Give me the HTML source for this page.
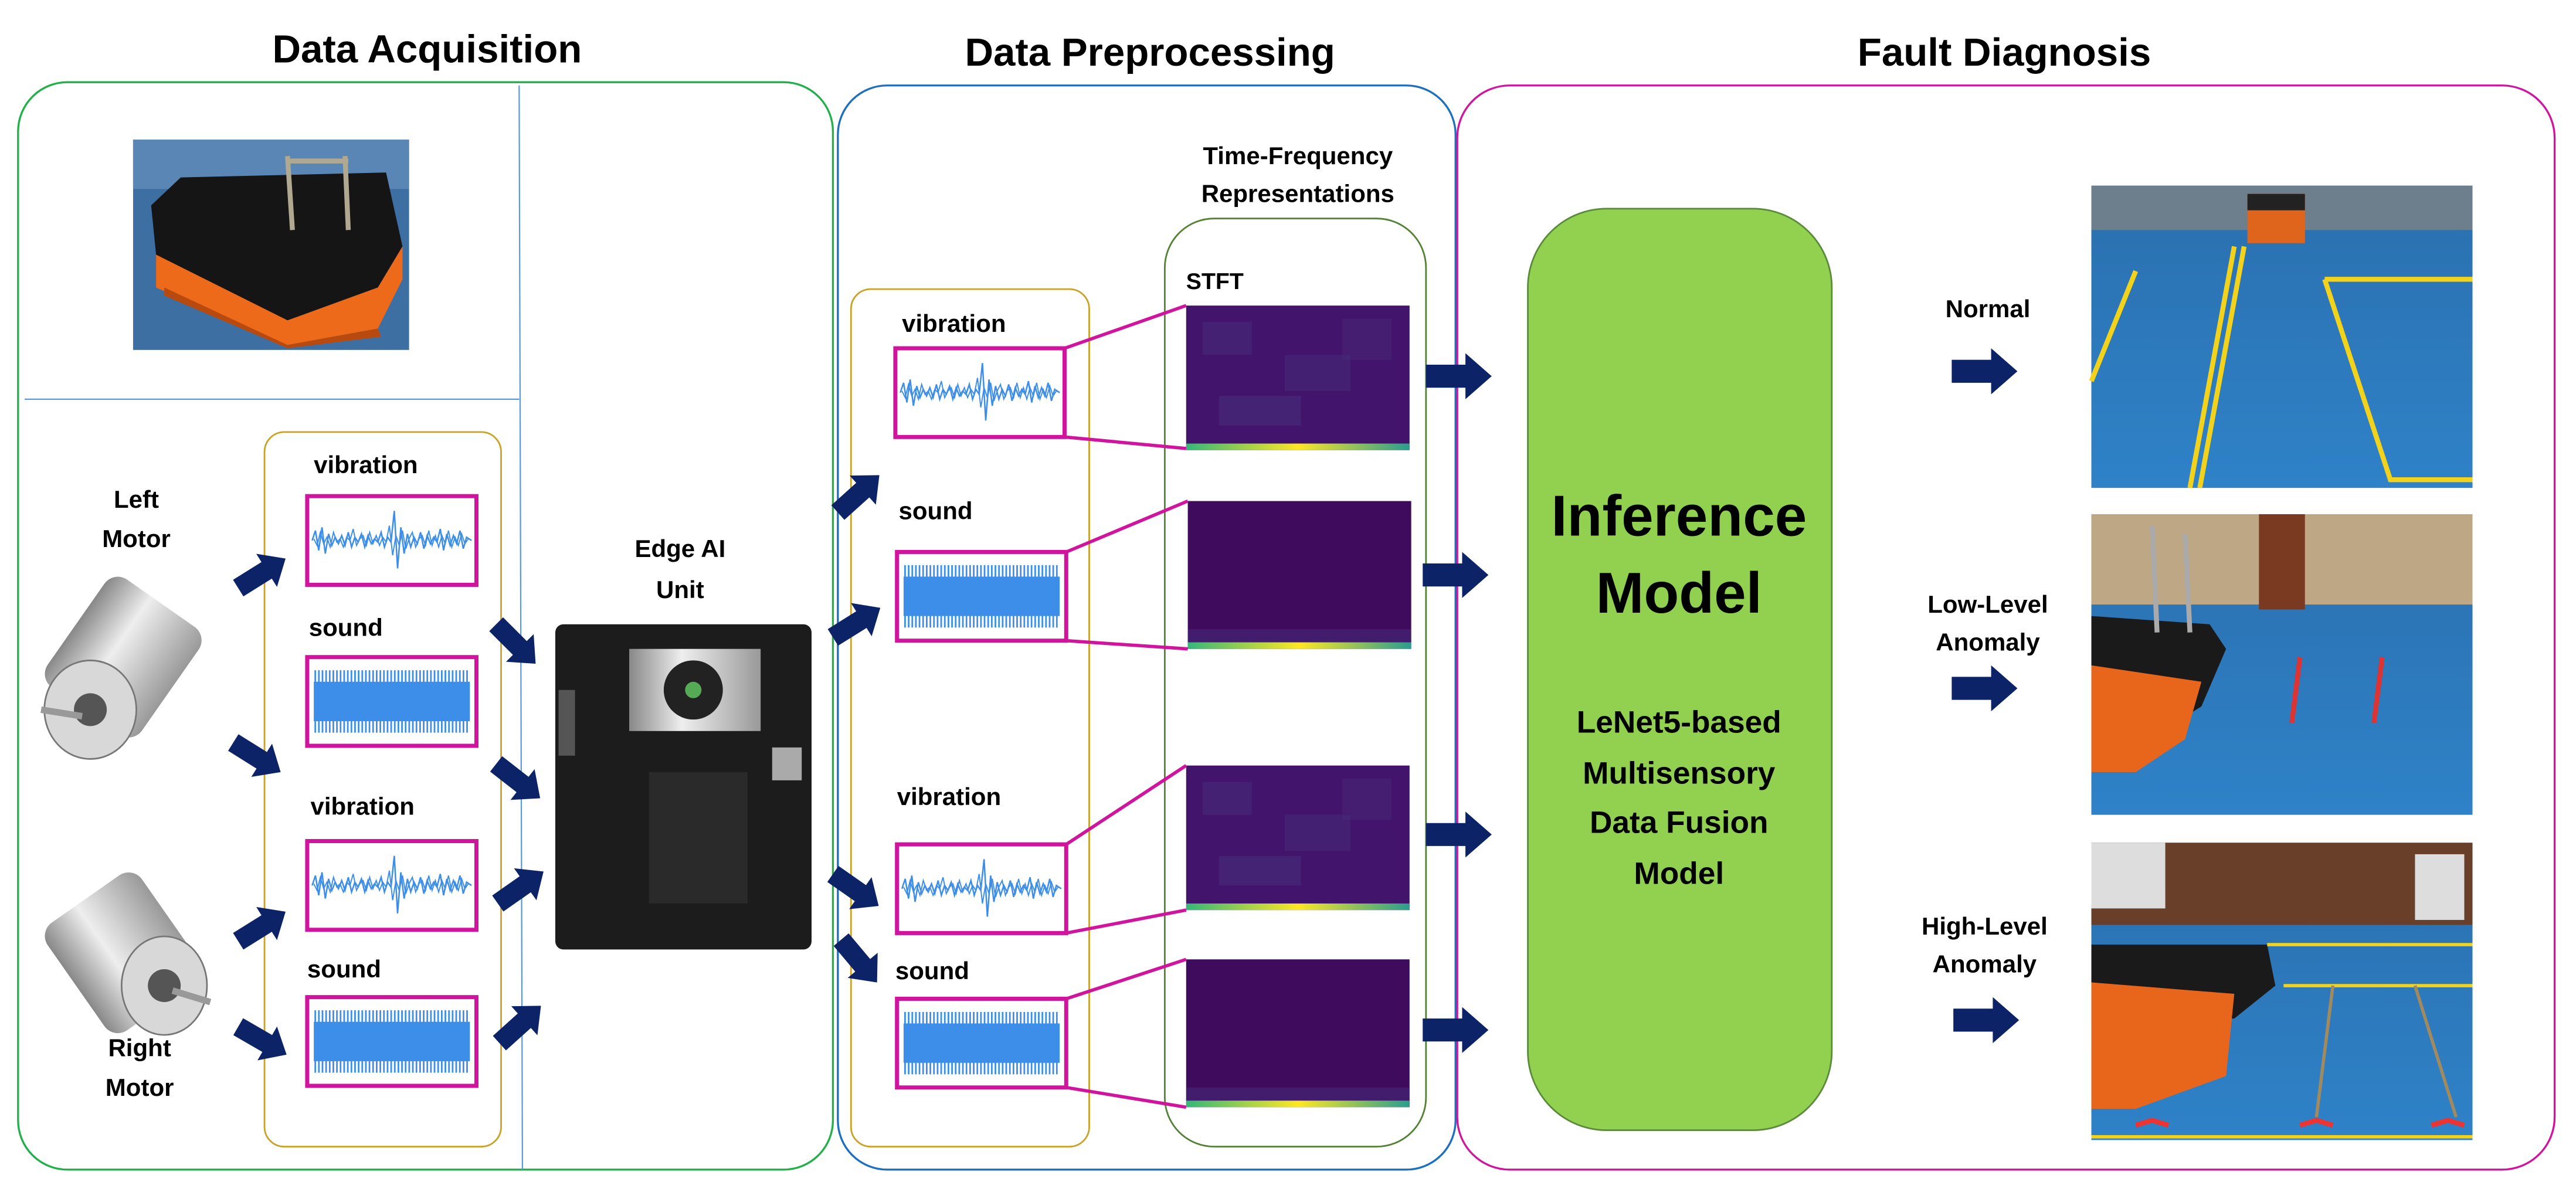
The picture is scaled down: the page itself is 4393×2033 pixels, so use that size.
<!DOCTYPE html>
<html><head><meta charset="utf-8"><style>
html,body{margin:0;padding:0;background:#fff;}
svg{display:block;}
text{font-family:"Liberation Sans",Arial,sans-serif;font-weight:bold;fill:#000;}
</style></head><body>
<svg width="4393" height="2033" viewBox="0 0 1568 725.6" xmlns="http://www.w3.org/2000/svg">
<defs>
  <g id="arr"><path d="M0,-7 L24,-7 L24,-14 L40,0 L24,14 L24,7 L0,7 Z" fill="#0c2467"/></g>
  <g id="vib">
    <rect x="0" y="0" width="103" height="54" fill="#fff" stroke="#d0149e" stroke-width="2.5"/>
    <polyline fill="none" stroke="#3d8ee8" stroke-width="0.9" points="3,27 5,21 7,33 9,19 11,35 13,23 15,30 17,25 19,29 21,24 23,30 25,22 27,31 29,25 31,28 33,23 35,31 37,24 39,29 41,26 43,28 45,22 47,31 49,25 51,28 53,9 55,44 57,19 59,35 61,23 63,31 65,25 67,29 69,22 71,32 73,24 75,29 77,25 79,28 81,20 83,33 85,23 87,30 89,24 91,29 93,21 95,32 97,25 100,27"/>
    <polyline fill="none" stroke="#3d8ee8" stroke-width="0.7" points="4,26 6,30 8,22 10,29 12,25 14,31 16,22 18,28 20,26 22,31 24,25 26,27 28,20 30,30 32,26 34,24 36,30 38,22 40,29 42,24 44,30 46,25 48,28 50,18 52,36 54,24 56,30 58,21 60,32 62,26 64,22 66,31 68,26 70,24 72,30 74,21 76,30 78,24 80,31 82,24 84,29 86,21 88,31 90,25 92,30 94,23 96,29 98,26"/>
  </g>
  <pattern id="lines" width="2.2" height="60" patternUnits="userSpaceOnUse">
    <rect x="0" y="0" width="1" height="60" fill="#3d8ee8"/>
  </pattern>
  <g id="snd">
    <rect x="0" y="0" width="103" height="54" fill="#fff" stroke="#d0149e" stroke-width="2.5"/>
    <rect x="4" y="8" width="95" height="38" fill="url(#lines)"/>
    <rect x="4" y="15" width="95" height="24" fill="#3d8ee8"/>
  </g>
  <linearGradient id="strip" x1="0" x2="1"><stop offset="0" stop-color="#35b779"/><stop offset="0.5" stop-color="#fde725"/><stop offset="1" stop-color="#2a9d8f"/></linearGradient>
  <g id="spec1">
    <rect x="0" y="0" width="136" height="88" fill="#43146b"/>
    <rect x="10" y="10" width="30" height="20" fill="#472d7b" opacity="0.5"/>
    <rect x="60" y="30" width="40" height="22" fill="#46337e" opacity="0.4"/>
    <rect x="20" y="55" width="50" height="18" fill="#453781" opacity="0.4"/>
    <rect x="95" y="8" width="30" height="25" fill="#482878" opacity="0.5"/>
    <rect x="0" y="84" width="136" height="4" fill="url(#strip)"/>
  </g>
  <g id="spec2">
    <rect x="0" y="0" width="136" height="90" fill="#3f0b5c"/>
    <rect x="0" y="78" width="136" height="8" fill="#452a78" opacity="0.6"/>
    <rect x="0" y="86" width="136" height="4" fill="url(#strip)"/>
  </g>
  <linearGradient id="floor" x1="0" y1="0" x2="0" y2="1"><stop offset="0" stop-color="#2a6fae"/><stop offset="1" stop-color="#2f82c8"/></linearGradient>
  <linearGradient id="metal" x1="0" x2="1"><stop offset="0" stop-color="#888"/><stop offset="0.4" stop-color="#eee"/><stop offset="1" stop-color="#999"/></linearGradient>
</defs>

<text x="260" y="38" font-size="24" text-anchor="middle">Data Acquisition</text>
<text x="700" y="40" font-size="24" text-anchor="middle">Data Preprocessing</text>
<text x="1220" y="40" font-size="24" text-anchor="middle">Fault Diagnosis</text>

<rect x="11" y="50" width="496" height="662" rx="30" fill="none" stroke="#22b04b" stroke-width="1.2"/>
<rect x="510" y="52" width="376" height="660" rx="30" fill="none" stroke="#1f6fc0" stroke-width="1.2"/>
<rect x="887" y="52" width="668" height="660" rx="32" fill="none" stroke="#d0149e" stroke-width="1.2"/>
<line x1="316" y1="52" x2="318" y2="712" stroke="#5b9bd5" stroke-width="0.8"/>
<line x1="15" y1="243" x2="316" y2="243" stroke="#5b9bd5" stroke-width="0.8"/>

<rect x="81" y="85" width="168" height="128" fill="#3e6fa2"/>
<rect x="81" y="85" width="168" height="30" fill="#5a86b5"/>
<path d="M92,125 L110,108 L235,105 L245,150 L230,175 L175,195 L95,155 Z" fill="#151515"/>
<path d="M95,155 L175,195 L230,175 L245,150 L245,170 L230,200 L175,210 L95,175 Z" fill="#ec6a1a"/>
<path d="M100,175 L175,210 L230,200 L232,205 L175,212 L100,180 Z" fill="#b84a10"/>
<path d="M175,95 L178,140 M210,95 L212,140 M175,98 L212,98" stroke="#b0a890" stroke-width="3" fill="none"/>

<g>
  <rect x="40" y="360" width="70" height="80" rx="10" fill="url(#metal)" transform="rotate(35 75 400)"/>
  <ellipse cx="55" cy="432" rx="28" ry="30" fill="#d8d8d8" stroke="#777"/>
  <circle cx="55" cy="432" r="10" fill="#555"/>
  <line x1="50" y1="436" x2="25" y2="432" stroke="#999" stroke-width="4"/>
</g>
<g>
  <rect x="40" y="540" width="70" height="80" rx="10" fill="url(#metal)" transform="rotate(-35 75 580)"/>
  <ellipse cx="100" cy="600" rx="26" ry="30" fill="#d8d8d8" stroke="#777"/>
  <circle cx="100" cy="600" r="10" fill="#555"/>
  <line x1="105" y1="603" x2="128" y2="610" stroke="#999" stroke-width="4"/>
</g>
<text font-size="15" text-anchor="middle"><tspan x="83" y="309">Left</tspan><tspan x="83" y="333">Motor</tspan></text>
<text font-size="15" text-anchor="middle"><tspan x="85" y="643">Right</tspan><tspan x="85" y="667">Motor</tspan></text>

<rect x="161" y="263" width="144" height="435" rx="12" fill="none" stroke="#c9a227" stroke-width="1"/>
<text font-size="15" x="191" y="288">vibration</text>
<use href="#vib" x="187" y="302"/>
<text font-size="15" x="188" y="387">sound</text>
<use href="#snd" x="187" y="400"/>
<text font-size="15" x="189" y="496">vibration</text>
<use href="#vib" x="187" y="512"/>
<text font-size="15" x="187" y="595">sound</text>
<use href="#snd" x="187" y="607"/>

<use href="#arr" transform="translate(145,358) rotate(-32) scale(0.85)"/>
<use href="#arr" transform="translate(142,452) rotate(32) scale(0.85)"/>
<use href="#arr" transform="translate(145,573) rotate(-32) scale(0.85)"/>
<use href="#arr" transform="translate(145,625) rotate(30) scale(0.85)"/>
<use href="#arr" transform="translate(302,380) rotate(45) scale(0.85)"/>
<use href="#arr" transform="translate(302,465) rotate(38) scale(0.85)"/>
<use href="#arr" transform="translate(303,550) rotate(-35) scale(0.85)"/>
<use href="#arr" transform="translate(304,635) rotate(-42) scale(0.85)"/>

<text font-size="15" text-anchor="middle"><tspan x="414" y="339">Edge AI</tspan><tspan x="414" y="364">Unit</tspan></text>
<rect x="338" y="380" width="156" height="198" rx="5" fill="#1c1c1c"/>
<rect x="383" y="395" width="80" height="50" fill="url(#metal)"/>
<circle cx="422" cy="420" r="18" fill="#222"/>
<circle cx="422" cy="420" r="5" fill="#5a5"/>
<rect x="395" y="470" width="60" height="80" fill="#2a2a2a"/>
<rect x="470" y="455" width="18" height="20" fill="#aaa"/>
<rect x="340" y="420" width="10" height="40" fill="#555"/>

<rect x="518" y="176" width="145" height="522" rx="12" fill="none" stroke="#c9a227" stroke-width="1"/>
<use href="#arr" transform="translate(510,312) rotate(-42) scale(0.85)"/>
<use href="#arr" transform="translate(507,388) rotate(-32) scale(0.85)"/>
<use href="#arr" transform="translate(507,532) rotate(35) scale(0.85)"/>
<use href="#arr" transform="translate(512,572) rotate(50) scale(0.85)"/>
<text font-size="15" x="549" y="202">vibration</text>
<use href="#vib" x="545" y="212"/>
<text font-size="15" x="547" y="316">sound</text>
<use href="#snd" x="546" y="336"/>
<text font-size="15" x="546" y="490">vibration</text>
<use href="#vib" x="546" y="514"/>
<text font-size="15" x="545" y="596">sound</text>
<use href="#snd" x="546" y="608"/>

<text font-size="15" text-anchor="middle"><tspan x="790" y="100">Time-Frequency</tspan><tspan x="790" y="123">Representations</tspan></text>
<rect x="709" y="133" width="159" height="565" rx="30" fill="none" stroke="#538135" stroke-width="1"/>
<text font-size="14" x="722" y="176">STFT</text>
<use href="#spec1" x="722" y="186"/>
<use href="#spec2" x="723" y="305"/>
<use href="#spec1" x="722" y="466"/>
<use href="#spec2" x="722" y="584"/>

<g stroke="#d0149e" stroke-width="2">
  <line x1="648" y1="212" x2="722" y2="186"/><line x1="648" y1="266" x2="722" y2="273"/>
  <line x1="649" y1="336" x2="723" y2="305"/><line x1="649" y1="390" x2="723" y2="395"/>
  <line x1="649" y1="514" x2="722" y2="466"/><line x1="649" y1="568" x2="722" y2="554"/>
  <line x1="649" y1="608" x2="722" y2="584"/><line x1="649" y1="662" x2="722" y2="674"/>
</g>

<use href="#arr" x="868" y="229"/>
<use href="#arr" x="866" y="350"/>
<use href="#arr" x="868" y="508"/>
<use href="#arr" x="866" y="627"/>

<rect x="930" y="127" width="185" height="561" rx="48" fill="#92d050" stroke="#5a8a3a" stroke-width="1"/>
<text font-size="35" text-anchor="middle"><tspan x="1022" y="326">Inference</tspan><tspan x="1022" y="373">Model</tspan></text>
<text font-size="19" text-anchor="middle"><tspan x="1022" y="446">LeNet5-based</tspan><tspan x="1022" y="477">Multisensory</tspan><tspan x="1022" y="507">Data Fusion</tspan><tspan x="1022" y="538">Model</tspan></text>

<text font-size="15" text-anchor="middle" x="1210" y="193">Normal</text>
<text font-size="15" text-anchor="middle"><tspan x="1210" y="373">Low-Level</tspan><tspan x="1210" y="396">Anomaly</tspan></text>
<text font-size="15" text-anchor="middle"><tspan x="1208" y="569">High-Level</tspan><tspan x="1208" y="592">Anomaly</tspan></text>
<use href="#arr" x="1188" y="226"/>
<use href="#arr" x="1188" y="419"/>
<use href="#arr" x="1189" y="621"/>

<g>
  <rect x="1273" y="113" width="232" height="184" fill="url(#floor)"/>
  <rect x="1273" y="113" width="232" height="27" fill="#6d7f8c"/>
  <rect x="1368" y="118" width="35" height="30" fill="#e0651c"/>
  <rect x="1368" y="118" width="35" height="10" fill="#222"/>
  <path d="M1273,232 L1300,165 M1360,150 L1333,297 M1366,150 L1339,297 M1415,170 L1455,292 L1505,292 M1415,170 L1505,170" stroke="#f2d21a" stroke-width="3" fill="none"/>
</g>
<g>
  <rect x="1273" y="313" width="232" height="183" fill="url(#floor)"/>
  <rect x="1273" y="313" width="232" height="55" fill="#bda784"/>
  <rect x="1375" y="313" width="28" height="58" fill="#7a3a22"/>
  <path d="M1273,375 L1345,380 L1355,395 L1340,430 L1300,455 L1273,455 Z" fill="#1a1a1a"/>
  <path d="M1273,405 L1340,415 L1330,450 L1300,470 L1273,470 Z" fill="#e8661c"/>
  <path d="M1310,320 L1313,385 M1330,325 L1333,385" stroke="#aaa" stroke-width="3"/>
  <path d="M1400,400 L1395,440 M1450,400 L1445,440" stroke="#d33" stroke-width="3"/>
</g>
<g>
  <rect x="1273" y="513" width="232" height="181" fill="url(#floor)"/>
  <rect x="1273" y="513" width="232" height="50" fill="#6a3f2a"/>
  <rect x="1273" y="513" width="45" height="40" fill="#ddd"/>
  <rect x="1470" y="520" width="30" height="40" fill="#ddd"/>
  <path d="M1273,575 L1380,575 L1385,600 L1360,620 L1273,620 Z" fill="#1a1a1a"/>
  <path d="M1273,598 L1360,605 L1355,655 L1300,675 L1273,675 Z" fill="#e8661c"/>
  <path d="M1380,575 L1505,575 M1390,600 L1505,600 M1273,692 L1505,692" stroke="#f2d21a" stroke-width="2"/>
  <path d="M1420,600 L1410,680 M1470,600 L1495,680" stroke="#a08a60" stroke-width="2"/>
  <path d="M1300,685 l10,-3 l10,3 M1400,685 l10,-3 l10,3 M1480,685 l10,-3 l10,3" stroke="#e33" stroke-width="3" fill="none"/>
</g>
</svg>
</body></html>
